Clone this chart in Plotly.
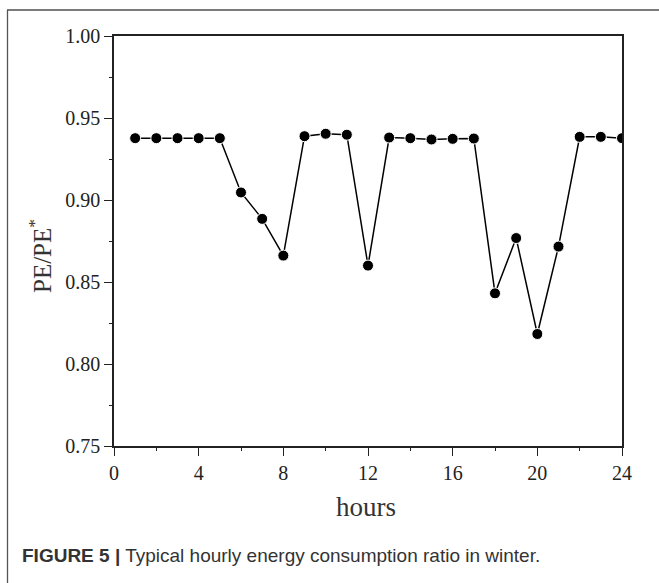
import plotly.graph_objects as go

hours = list(range(1, 25))
ratio = [0.9377, 0.9377, 0.9377, 0.9377, 0.9377, 0.9046, 0.8885, 0.8661,
         0.9389, 0.9404, 0.9398, 0.8600, 0.9381, 0.9377, 0.9369, 0.9373,
         0.9375, 0.8431, 0.8768, 0.8183, 0.8716, 0.9385, 0.9385, 0.9377]
x_ticks = [0, 4, 8, 12, 16, 20, 24]
y_ticks = [0.75, 0.80, 0.85, 0.90, 0.95, 1.00]

W, H = 659, 583
L, R, T, B = 114, 622, 36, 446
pw, ph = R - L, B - T

def px(x):
    return (x - L) / pw

def py(y):
    return (B - y) / ph

fig = go.Figure()
fig.add_trace(go.Scatter(
    x=hours, y=ratio, mode="lines+markers",
    line=dict(color="black", width=1.5),
    marker=dict(color="black", size=11, line=dict(color="white", width=1)),
    showlegend=False,
))

serif = "Liberation Serif, Times New Roman, serif"
axis_common = dict(
    showline=True, linecolor="#222", linewidth=1.5, mirror=True,
    ticks="outside", ticklen=8, tickwidth=1.3, tickcolor="#222",
    showgrid=False, zeroline=False,
    tickfont=dict(family=serif, size=20, color="#222"),
)
fig.update_layout(
    width=W, height=H,
    margin=dict(l=L, r=W - R, t=T, b=H - B),
    paper_bgcolor="white", plot_bgcolor="white",
    xaxis=dict(range=[0, 24], tickvals=x_ticks,
               ticktext=[str(v) for v in x_ticks],
               minor=dict(ticks="outside", ticklen=3, tickwidth=1.2,
                          tickcolor="#222", dtick=2, tick0=0),
               **axis_common),
    yaxis=dict(range=[0.75, 1.0], tickvals=y_ticks,
               ticktext=[f"{v:.2f}" for v in y_ticks],
               minor=dict(ticks="outside", ticklen=3, tickwidth=1.2,
                          tickcolor="#222", dtick=0.025, tick0=0.75),
               **axis_common),
    shapes=[
        dict(type="line", xref="paper", yref="paper",
             x0=px(7), x1=px(W + 5), y0=py(10), y1=py(10),
             line=dict(color="#7a7a7a", width=2)),
        dict(type="line", xref="paper", yref="paper",
             x0=px(7.5), x1=px(7.5), y0=py(10), y1=py(H + 5),
             line=dict(color="#555", width=1.3)),
    ],
    annotations=[
        dict(text="hours", xref="paper", yref="paper",
             x=px(366), y=py(507), xanchor="center", yanchor="middle",
             showarrow=False, font=dict(family=serif, size=27, color="#333")),
        dict(text="PE/PE<sup>*</sup>", xref="paper", yref="paper",
             x=px(40), y=py(256), xanchor="center", yanchor="middle",
             textangle=-90, showarrow=False,
             font=dict(family=serif, size=25, color="#333")),
        dict(text="<b>FIGURE 5 |</b> Typical hourly energy consumption ratio in winter.",
             xref="paper", yref="paper", x=px(20), y=py(555),
             xanchor="left", yanchor="middle", showarrow=False,
             font=dict(family="Liberation Sans, Arial, sans-serif", size=19,
                       color="#333")),
    ],
)

fig.write_html("out.html", config={"displayModeBar": False},
               post_script="document.body.style.margin='0';")
